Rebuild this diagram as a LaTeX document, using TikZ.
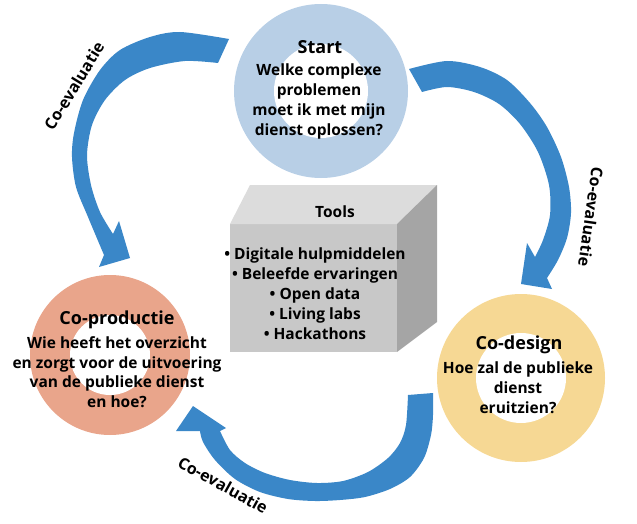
\documentclass[tikz,border=0pt]{standalone}
\usepackage{fontspec}
\setmainfont{Open Sans}
\definecolor{arrowblue}{RGB}{58,135,200}
\definecolor{ringblue}{RGB}{184,207,230}
\definecolor{ringsalmon}{RGB}{233,165,139}
\definecolor{ringyellow}{RGB}{246,216,148}
\definecolor{boxfront}{RGB}{200,200,200}
\definecolor{boxtop}{RGB}{220,220,220}
\definecolor{boxside}{RGB}{165,165,165}
\begin{document}
\begin{tikzpicture}[x=1pt,y=-1pt,
  ring/.style={circle, inner sep=0pt},
  hole/.style={circle, fill=white, inner sep=0pt},
  titletext/.style={font=\fontsize{18}{22}\selectfont\bfseries, inner sep=0pt},
  bodytext/.style={font=\fontsize{15.5}{20}\selectfont\bfseries, align=center, inner sep=0pt},
  evallabel/.style={font=\fontsize{16}{19}\selectfont\bfseries, inner sep=0pt},
  bigarrow/.style={fill=arrowblue}]
\useasboundingbox (0,0) rectangle (637,524);

% rings
\node[ring, fill=ringblue, minimum size=174pt] (start) at (321,91) {};
\node[hole, minimum size=94pt] (starthole) at (start) {};
\node[ring, fill=ringsalmon, minimum size=160pt] (coprod) at (110,355) {};
\node[hole, minimum size=80pt] (coprodhole) at (coprod) {};
\node[ring, fill=ringyellow, minimum size=168pt] (codesign) at (521,378) {};
\node[hole, minimum size=90pt] (codesignhole) at (codesign) {};

% tools box
\coordinate (fTL) at (230,224);
\coordinate (fTR) at (397,224);
\coordinate (fBR) at (397,352);
\coordinate (fBL) at (230,352);
\coordinate (bTL) at (250,185);
\coordinate (bTR) at (437,185);
\coordinate (bBR) at (437,322);
\fill[boxfront] (fTL) -- (fTR) -- (fBR) -- (fBL) -- cycle;
\fill[boxtop] (fTL) -- (bTL) -- (bTR) -- (fTR) -- cycle;
\fill[boxside] (fTR) -- (bTR) -- (bBR) -- (fBR) -- cycle;

% arrows
\fill[bigarrow] plot[smooth] coordinates {(229,39) (180,32) (150,37) (120,50) (100,70) (83,100) (74,133) (72,157) (76,187) (88,217) (104,255)}
  -- (99,267) -- (130,258) -- (119,221)
  -- plot[smooth] coordinates {(113,234) (100,212) (91,185) (87,155) (92,125) (105,100) (125,80) (150,68) (185,61) (218,63)} -- cycle;

\fill[bigarrow] plot[smooth] coordinates {(409,69) (447,61) (480,67) (507,80) (530,103) (547,127) (561,157) (569,187) (571,213) (567,238) (558,260) (547,278)}
  -- (552,289) -- (521,284) -- (527,243)
  -- plot[smooth] coordinates {(535,257) (543,240) (550,215) (549,185) (538,152) (520,124) (499,104) (474,92) (447,87) (422,92)} -- cycle;

\fill[bigarrow] plot[smooth] coordinates {(433,393) (433,415) (431,435) (424,458) (410,477) (390,489) (365,497) (340,500) (315,501) (288,499) (260,492) (235,479) (215,460) (203,442) (200,431)}
  -- (176,431) -- (193,406) -- (226,428)
  -- plot[smooth] coordinates {(220,431) (230,450) (245,463) (265,473) (290,480) (317,483) (343,481) (368,472) (388,458) (400,443) (406,425) (408,395)} -- cycle;

% texts
\node[titletext] (starttitle) at (320,47) {Start};
\node[bodytext] (startbody) at (319,101) {Welke complexe\\problemen\\moet ik met mijn\\dienst oplossen?};
\node[titletext] (coprodtitle) at (117,320) {Co-productie};
\node[bodytext, font=\fontsize{15.5}{19.5}\selectfont\bfseries] (coprodbody) at (117,372) {Wie heeft het overzicht\\en zorgt voor de uitvoering\\van de publieke dienst\\en hoe?};
\node[titletext] (codesigntitle) at (519,345) {Co-design};
\node[bodytext] (codesignbody) at (518,388) {Hoe zal de publieke\\dienst\\eruitzien?};
\node[bodytext] (toolstitle) at (335,212) {Tools};
\node[bodytext] (toolslist) at (315,294) {• Digitale hulpmiddelen\\• Beleefde ervaringen\\• Open data\\• Living labs\\• Hackathons};

\node[evallabel, rotate=58.5] (eval1) at (74,86) {Co-evaluatie};
\node[evallabel, rotate=-98] (eval2) at (591,217) {Co-evaluatie};
\node[evallabel, rotate=-29] (eval3) at (223,485) {Co-evaluatie};
\end{tikzpicture}
\end{document}
